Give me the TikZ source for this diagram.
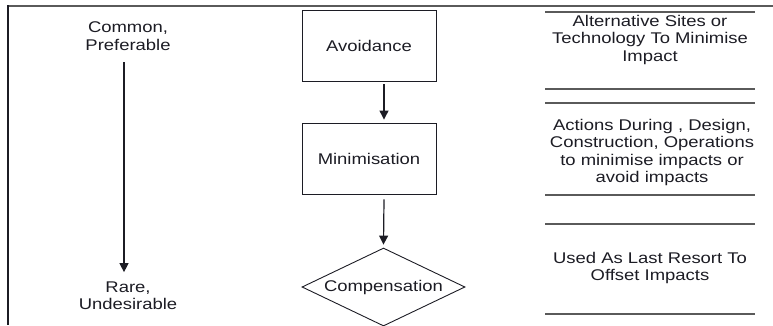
\documentclass[tikz,border=0pt]{standalone}
\usepackage{fontspec}
\setmainfont{Liberation Sans}[FakeStretch=1.19]
\usetikzlibrary{arrows.meta,shapes.geometric}
\definecolor{ink}{HTML}{1C1C24}
\definecolor{rule}{HTML}{5A5A5A}
\begin{document}
\begin{tikzpicture}[x=1pt,y=-1pt,
  txt/.style={align=center,text=ink,inner sep=0pt,
    font=\fontsize{15.5}{17.5}\selectfont},
  stage/.style={txt,draw=ink,line width=0.9pt,minimum width=134pt,minimum height=71pt},
  lastresort/.style={txt,draw=ink,line width=0.9pt,diamond,aspect=2.1,
    minimum width=163pt,minimum height=78pt},
  arr/.style={draw=ink,line width=1.2pt,-{Triangle[width=9pt,length=9pt]}},
  sep/.style={draw=rule,line width=1.3pt}]
\useasboundingbox (0,0) rectangle (773,325);

% frame
\draw[draw=rule,line width=2pt] (8,6) -- (773,6);
\draw[draw=ink,line width=2.2pt] (8,5) -- (8,325);

% preference scale
\node[txt] (common) at (128,36) {Common,\\Preferable};
\node[txt] (rare) at (128,295.5) {Rare,\\Undesirable};
\draw[arr] ([xshift=-4pt,yshift=-12pt]common.south) -- ([xshift=-4pt,yshift=9pt]rare.north);

% hierarchy
\node[stage] (avoid) at (369,45.5) {Avoidance};
\node[stage] (minim) at (369,158.5) {Minimisation};
\node[lastresort] (comp) at (383.5,287) {Compensation};
\draw[arr] ([xshift=15pt,yshift=-3pt]avoid.south) -- ([xshift=15pt,yshift=3pt]minim.north);
\draw[arr] ([xshift=15pt,yshift=-5pt]minim.south) -- ([yshift=3pt]comp.north);

% descriptions
\draw[sep] (545,12) -- (755,12);
\node[txt] (d1) at (650,39.5) {Alternative Sites or\\Technology To Minimise\\Impact};
\draw[sep] (545,89) -- (755,89);
\draw[sep] (545,103) -- (755,103);
\node[txt] (d2) at (652,152.5) {Actions During , Design,\\Construction, Operations\\to minimise impacts or\\avoid impacts};
\draw[sep] (545,195) -- (755,195);
\draw[sep] (545,224) -- (755,224);
\node[txt] (d3) at (650,268) {Used As Last Resort To\\Offset Impacts};
\draw[sep] (545,314) -- (755,314);
\end{tikzpicture}
\end{document}
